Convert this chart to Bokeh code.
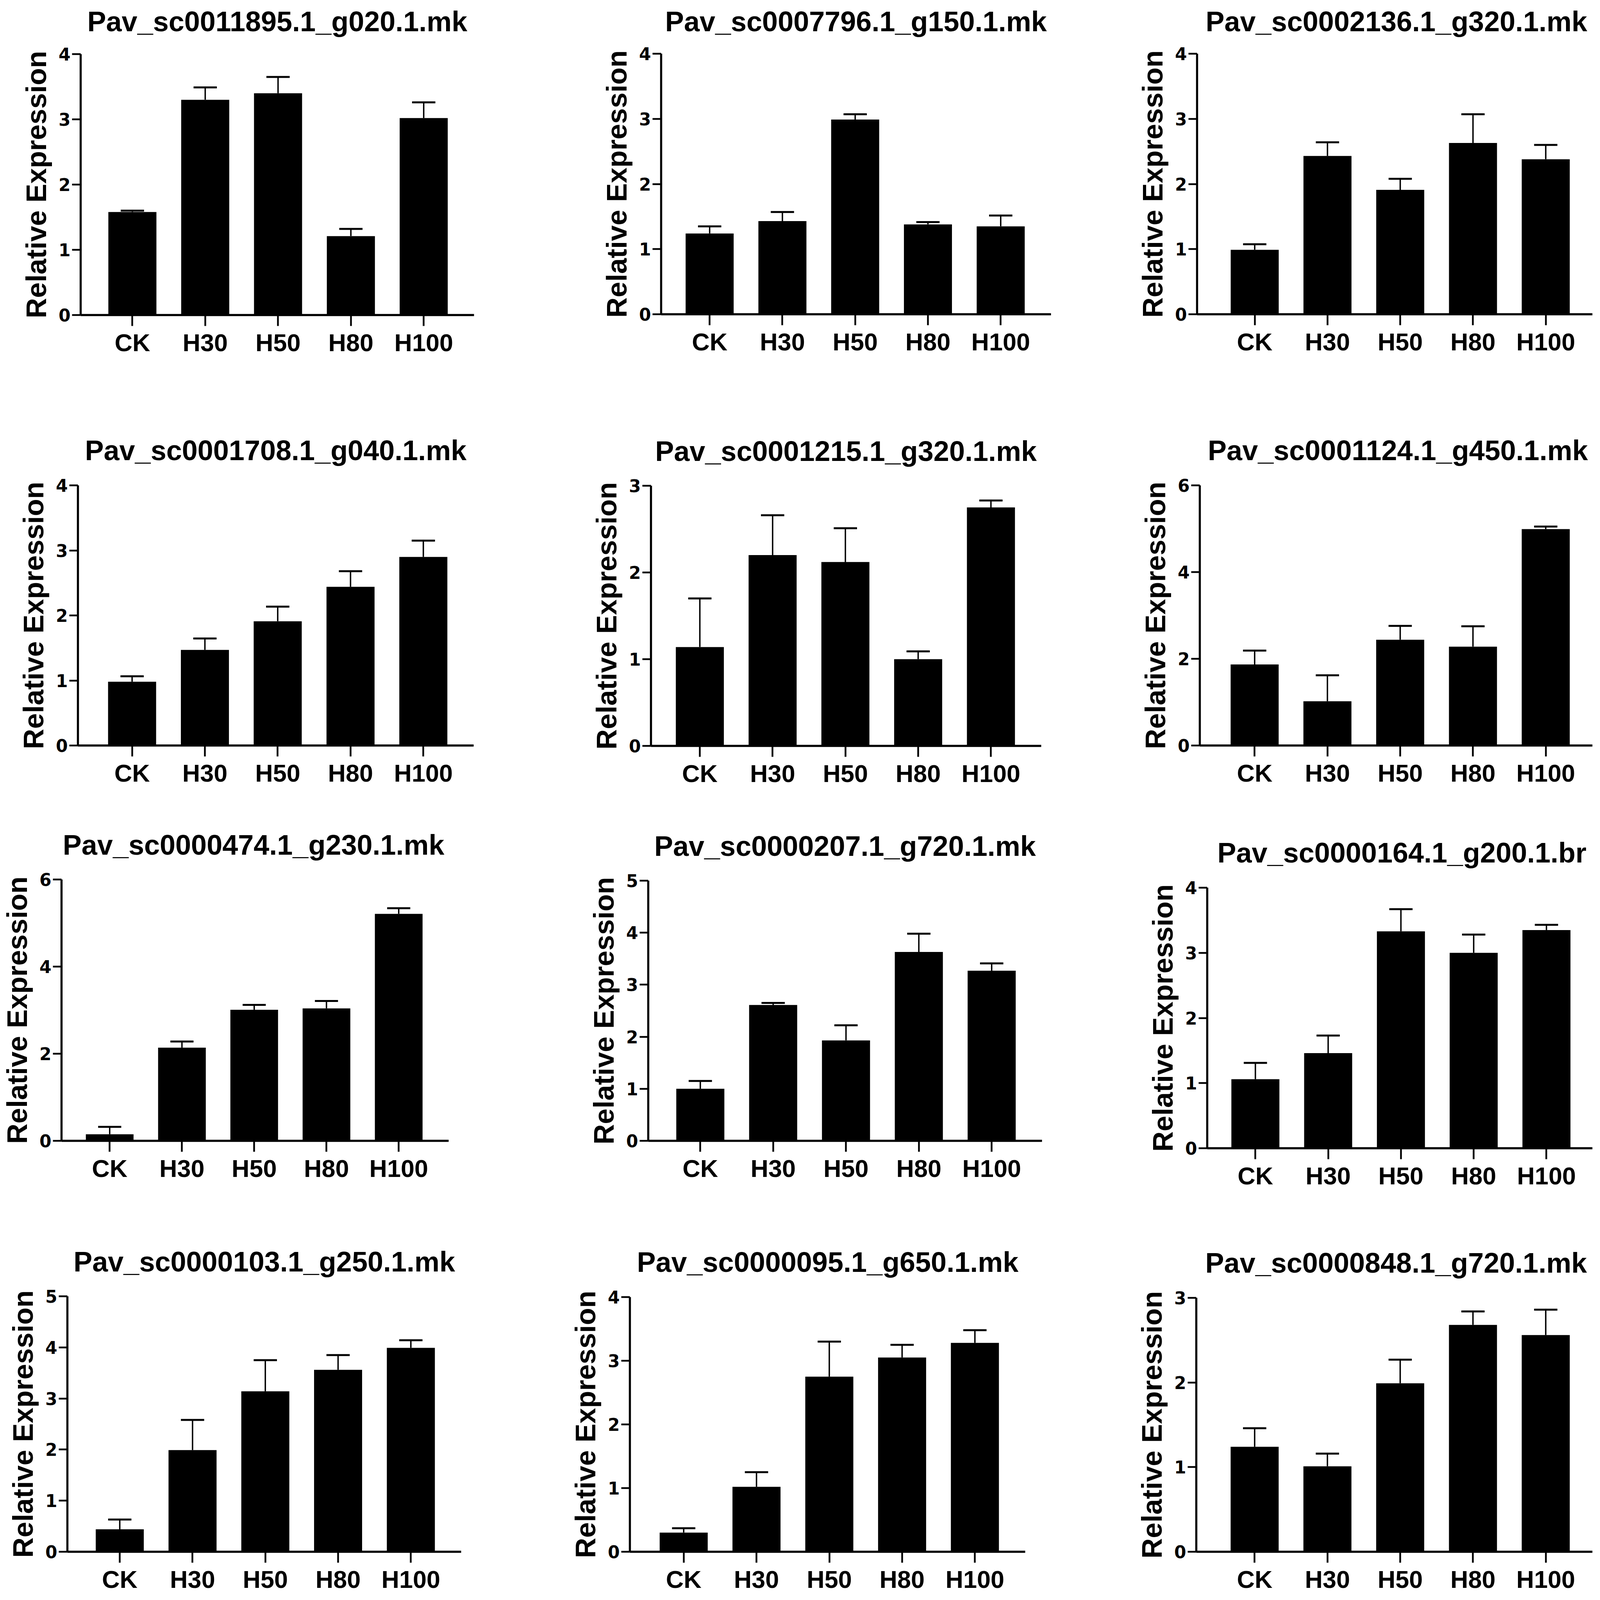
from bokeh.plotting import figure
from bokeh.layouts import row, column
from bokeh.models import Range1d, FixedTicker
from bokeh.core.properties import value
from bokeh.embed import file_html
from bokeh.resources import INLINE

# ---------------- data ----------------
CATEGORIES = ["CK", "H30", "H50", "H80", "H100"]

TITLES = [
    "Pav_sc0011895.1_g020.1.mk", "Pav_sc0007796.1_g150.1.mk", "Pav_sc0002136.1_g320.1.mk",
    "Pav_sc0001708.1_g040.1.mk", "Pav_sc0001215.1_g320.1.mk", "Pav_sc0001124.1_g450.1.mk",
    "Pav_sc0000474.1_g230.1.mk", "Pav_sc0000207.1_g720.1.mk", "Pav_sc0000164.1_g200.1.br",
    "Pav_sc0000103.1_g250.1.mk", "Pav_sc0000095.1_g650.1.mk", "Pav_sc0000848.1_g720.1.mk",
]

p1_mean = [1.58, 3.30, 3.40, 1.21, 3.02]
p1_sd = [0.02, 0.19, 0.25, 0.11, 0.24]
p2_mean = [1.24, 1.43, 2.99, 1.38, 1.35]
p2_sd = [0.11, 0.14, 0.08, 0.035, 0.165]
p3_mean = [0.99, 2.43, 1.91, 2.63, 2.38]
p3_sd = [0.085, 0.21, 0.17, 0.44, 0.22]
p4_mean = [0.98, 1.47, 1.91, 2.44, 2.90]
p4_sd = [0.085, 0.175, 0.225, 0.24, 0.25]
p5_mean = [1.14, 2.20, 2.12, 1.00, 2.75]
p5_sd = [0.56, 0.46, 0.39, 0.09, 0.08]
p6_mean = [1.87, 1.02, 2.44, 2.28, 4.99]
p6_sd = [0.32, 0.60, 0.32, 0.47, 0.06]
p7_mean = [0.15, 2.14, 3.01, 3.04, 5.21]
p7_sd = [0.17, 0.14, 0.11, 0.17, 0.13]
p8_mean = [1.00, 2.61, 1.93, 3.63, 3.27]
p8_sd = [0.15, 0.04, 0.29, 0.35, 0.14]
p9_mean = [1.06, 1.46, 3.33, 3.00, 3.35]
p9_sd = [0.25, 0.27, 0.34, 0.28, 0.08]
p10_mean = [0.44, 1.99, 3.14, 3.56, 3.99]
p10_sd = [0.19, 0.59, 0.61, 0.29, 0.15]
p11_mean = [0.30, 1.02, 2.75, 3.05, 3.28]
p11_sd = [0.07, 0.23, 0.55, 0.20, 0.20]
p12_mean = [1.24, 1.01, 1.99, 2.68, 2.56]
p12_sd = [0.22, 0.15, 0.28, 0.16, 0.30]

Y_MAX = [4, 4, 4, 4, 3, 6, 6, 5, 4, 5, 4, 3]
Y_STEP = [1, 1, 1, 1, 1, 2, 2, 1, 1, 1, 1, 1]

MEANS = [p1_mean, p2_mean, p3_mean, p4_mean, p5_mean, p6_mean,
         p7_mean, p8_mean, p9_mean, p10_mean, p11_mean, p12_mean]
SDS = [p1_sd, p2_sd, p3_sd, p4_sd, p5_sd, p6_sd,
       p7_sd, p8_sd, p9_sd, p10_sd, p11_sd, p12_sd]

# ---------------- layout geometry ----------------
# measured in the 4550x4612 reference, mapped onto the 4096x4096 viewport
SX = 4096 / 4550
SY = 4096 / 4612
COL_EDGES = [8, 1440, 2835, 4088]          # viewport pixels
ROW_EDGES = [8, 1000, 2045, 3080, 4088]    # viewport pixels
AXIS_X = [238, 1888, 3412, 230, 1859, 3420, 175, 1852, 3441, 200, 1800, 3410]
FIRST_X = [385, 2026, 3576, 384, 1998, 3576, 313, 2000, 3578, 349, 1953, 3576]
TOP_Y = [164, 163, 163, 1407, 1409, 1407, 2544, 2547, 2567, 3745, 3747, 3749]
ZERO_Y = [917, 914, 914, 2157, 2158, 2157, 3297, 3297, 3318, 4490, 4490, 4490]
STEP_REF = 207.0
END_REF = 143.0
TITLE_GAP_REF = 100.0      # title baseline above the top of the frame
TITLE_SIZE = 72            # px
PANEL_TOP_PAD = 30         # panel figure starts this far above its frame
BAR_W = 0.66
CAP_W = 0.32


def no_align(fig):
    if "frame_align" in fig.properties():
        fig.frame_align = False


cells = []
for i in range(12):
    r, c = divmod(i, 3)
    w = COL_EDGES[c + 1] - COL_EDGES[c]
    h = ROW_EDGES[r + 1] - ROW_EDGES[r]
    left_px = AXIS_X[i] * SX
    right_full = (FIRST_X[i] + 4 * STEP_REF + END_REF) * SX
    right_px = min(right_full, 4084)
    top_px = TOP_Y[i] * SY
    zero_px = ZERO_Y[i] * SY
    x0 = (AXIS_X[i] - FIRST_X[i]) / STEP_REF
    x1 = (right_px / SX - FIRST_X[i]) / STEP_REF

    # ---- title strip ----
    th = int(round(top_px - PANEL_TOP_PAD - ROW_EDGES[r]))
    tf = figure(width=w, height=th, x_range=Range1d(0, w), y_range=Range1d(0, th),
                x_axis_location=None, y_axis_location=None,
                output_backend="svg", toolbar_location=None,
                min_border_left=0, min_border_right=0, min_border_top=0, min_border_bottom=0)
    no_align(tf)
    tf.grid.visible = False
    tf.outline_line_color = None
    tf.background_fill_color = "white"
    tf.border_fill_color = "white"
    title_cx = (left_px + right_full) / 2 - COL_EDGES[c]
    base_abs = max(top_px - TITLE_GAP_REF * SY, ROW_EDGES[r] + 0.75 * TITLE_SIZE)
    title_base = (ROW_EDGES[r] + th) - base_abs
    tf.text(x=[title_cx], y=[title_base], text=[TITLES[i]],
            text_align="center", text_baseline="alphabetic",
            text_font=value("Liberation Sans"), text_font_style="bold",
            text_font_size=f"{TITLE_SIZE}px", text_color="black")

    # ---- bar panel ----
    ph = h - th
    p = figure(
        width=w, height=ph,
        x_range=Range1d(x0, x1), y_range=Range1d(0, Y_MAX[i]),
        output_backend="svg", toolbar_location=None,
        min_border_left=int(round(left_px - COL_EDGES[c])),
        min_border_right=int(round(COL_EDGES[c + 1] - right_px)),
        min_border_top=int(round(top_px - (ROW_EDGES[r] + th))),
        min_border_bottom=int(round(ROW_EDGES[r + 1] - zero_px)),
    )
    no_align(p)

    xs = list(range(len(CATEGORIES)))
    m = MEANS[i]
    s = SDS[i]
    tops = [a + b for a, b in zip(m, s)]
    p.vbar(x=xs, top=m, bottom=0, width=BAR_W, fill_color="black", line_color=None)
    p.segment(x0=xs, y0=m, x1=xs, y1=tops, line_color="black", line_width=3.6)
    p.segment(x0=[x - CAP_W / 2 for x in xs], y0=tops,
              x1=[x + CAP_W / 2 for x in xs], y1=tops,
              line_color="black", line_width=5)

    p.xgrid.visible = False
    p.ygrid.visible = False
    p.outline_line_color = None
    p.background_fill_color = "white"
    p.border_fill_color = "white"

    xa = p.xaxis[0]
    xa.ticker = FixedTicker(ticks=xs)
    xa.major_label_overrides = {k: CATEGORIES[k] for k in xs}
    xa.major_label_text_font = "Liberation Sans"
    xa.major_label_text_font_style = "bold"
    xa.major_label_text_font_size = "63px"
    xa.major_label_text_color = "black"
    xa.major_label_standoff = 7
    xa.major_tick_out = 28
    xa.major_tick_in = 0
    xa.minor_tick_out = 0
    xa.minor_tick_in = 0
    xa.major_tick_line_width = 4.5
    xa.axis_line_width = 5.4
    xa.axis_line_color = "black"
    xa.major_tick_line_color = "black"

    ya = p.yaxis[0]
    ya.ticker = FixedTicker(ticks=list(range(0, Y_MAX[i] + 1, Y_STEP[i])))
    ya.major_label_text_font = "DejaVu Sans"
    ya.major_label_text_font_style = "bold"
    ya.major_label_text_font_size = "44px"
    ya.major_label_text_color = "black"
    ya.major_label_standoff = 4
    ya.major_tick_out = 22
    ya.major_tick_in = 0
    ya.minor_tick_out = 0
    ya.minor_tick_in = 0
    ya.major_tick_line_width = 4.5
    ya.axis_line_width = 5.4
    ya.axis_line_color = "black"
    ya.major_tick_line_color = "black"
    ya.axis_label = "Relative Expression"
    ya.axis_label_text_font = "Liberation Sans"
    ya.axis_label_text_font_style = "bold"
    ya.axis_label_text_font_size = "72px"
    ya.axis_label_text_color = "black"
    ya.axis_label_standoff = 14

    cells.append(column(tf, p, spacing=0))

layout = column(*[row(*cells[r * 3:(r + 1) * 3], spacing=0) for r in range(4)], spacing=0)

with open("out.html", "w") as f:
    f.write(file_html(layout, INLINE))
